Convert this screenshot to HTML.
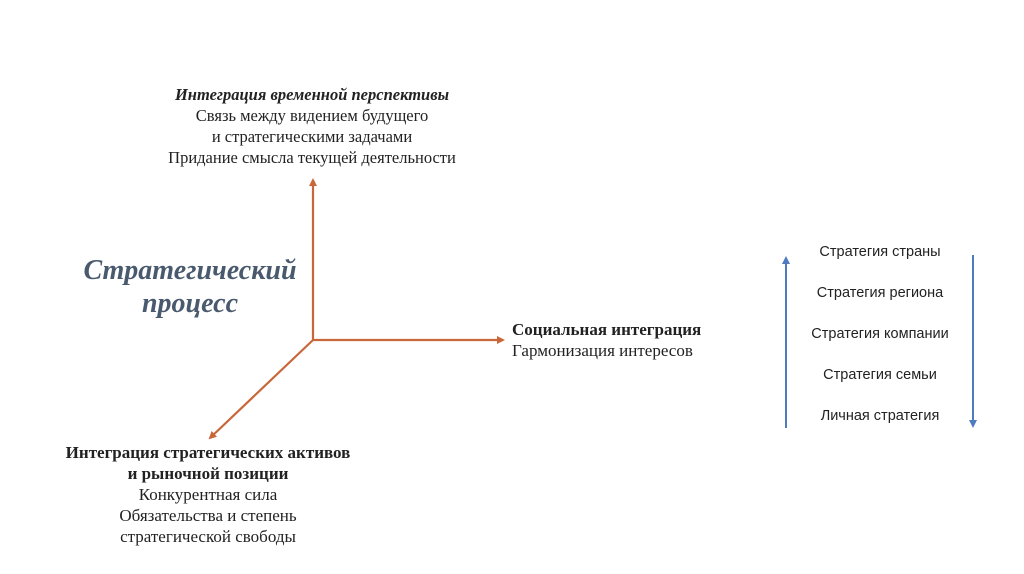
<!DOCTYPE html>
<html><head><meta charset="utf-8"><style>
body{margin:0;width:1024px;height:574px;background:#fff;position:relative;overflow:hidden}
.t{position:absolute;font-family:"Liberation Serif",serif;color:#222;font-size:16.5px;line-height:21px;text-align:center;white-space:nowrap}
.s{position:absolute;font-family:"Liberation Sans",sans-serif;font-size:14.5px;color:#222;width:200px;left:780px;text-align:center}
</style></head><body>
<svg width="1024" height="574" style="position:absolute;left:0;top:0">
<defs>
<marker id="o" markerWidth="8" markerHeight="8" refX="6" refY="4" orient="auto" markerUnits="userSpaceOnUse"><path d="M0,0 L8,4 L0,8 z" fill="#c8683a"/></marker>
<marker id="b" markerWidth="8" markerHeight="8" refX="6" refY="4" orient="auto" markerUnits="userSpaceOnUse"><path d="M0,0 L8,4 L0,8 z" fill="#4f7cc0"/></marker>
</defs>
<g stroke="#c8683a" stroke-width="2.2" fill="none">
<line x1="313" y1="340" x2="313" y2="180" marker-end="url(#o)"/>
<line x1="313" y1="340" x2="503" y2="340" marker-end="url(#o)"/>
<line x1="313" y1="340" x2="210" y2="438" marker-end="url(#o)"/>
</g>
<g stroke="#4f7cc0" stroke-width="2" fill="none">
<line x1="786" y1="428" x2="786" y2="258" marker-end="url(#b)"/>
<line x1="973" y1="255" x2="973" y2="426" marker-end="url(#b)"/>
</g>
</svg>
<div class="t" style="left:112px;width:400px;top:84px"><b><i>Интеграция временной перспективы</i></b><br>Связь между видением будущего<br>и стратегическими задачами<br>Придание смысла текущей деятельности</div>
<div class="t" style="left:60px;width:260px;top:254px;font-size:28px;line-height:33px;color:#4a5a6e;font-weight:bold;font-style:italic">Стратегический<br>процесс</div>
<div class="t" style="left:512px;top:319px;text-align:left;font-size:17px"><b>Социальная интеграция</b><br>Гармонизация интересов</div>
<div class="t" style="left:8px;width:400px;top:442px;font-size:17px"><b>Интеграция стратегических активов<br>и рыночной позиции</b><br>Конкурентная сила<br>Обязательства и степень<br>стратегической свободы</div>
<div class="s" style="top:244px">Стратегия страны</div>
<div class="s" style="top:285px">Стратегия региона</div>
<div class="s" style="top:326px">Стратегия компании</div>
<div class="s" style="top:367px">Стратегия семьи</div>
<div class="s" style="top:408px">Личная стратегия</div>
</body></html>
